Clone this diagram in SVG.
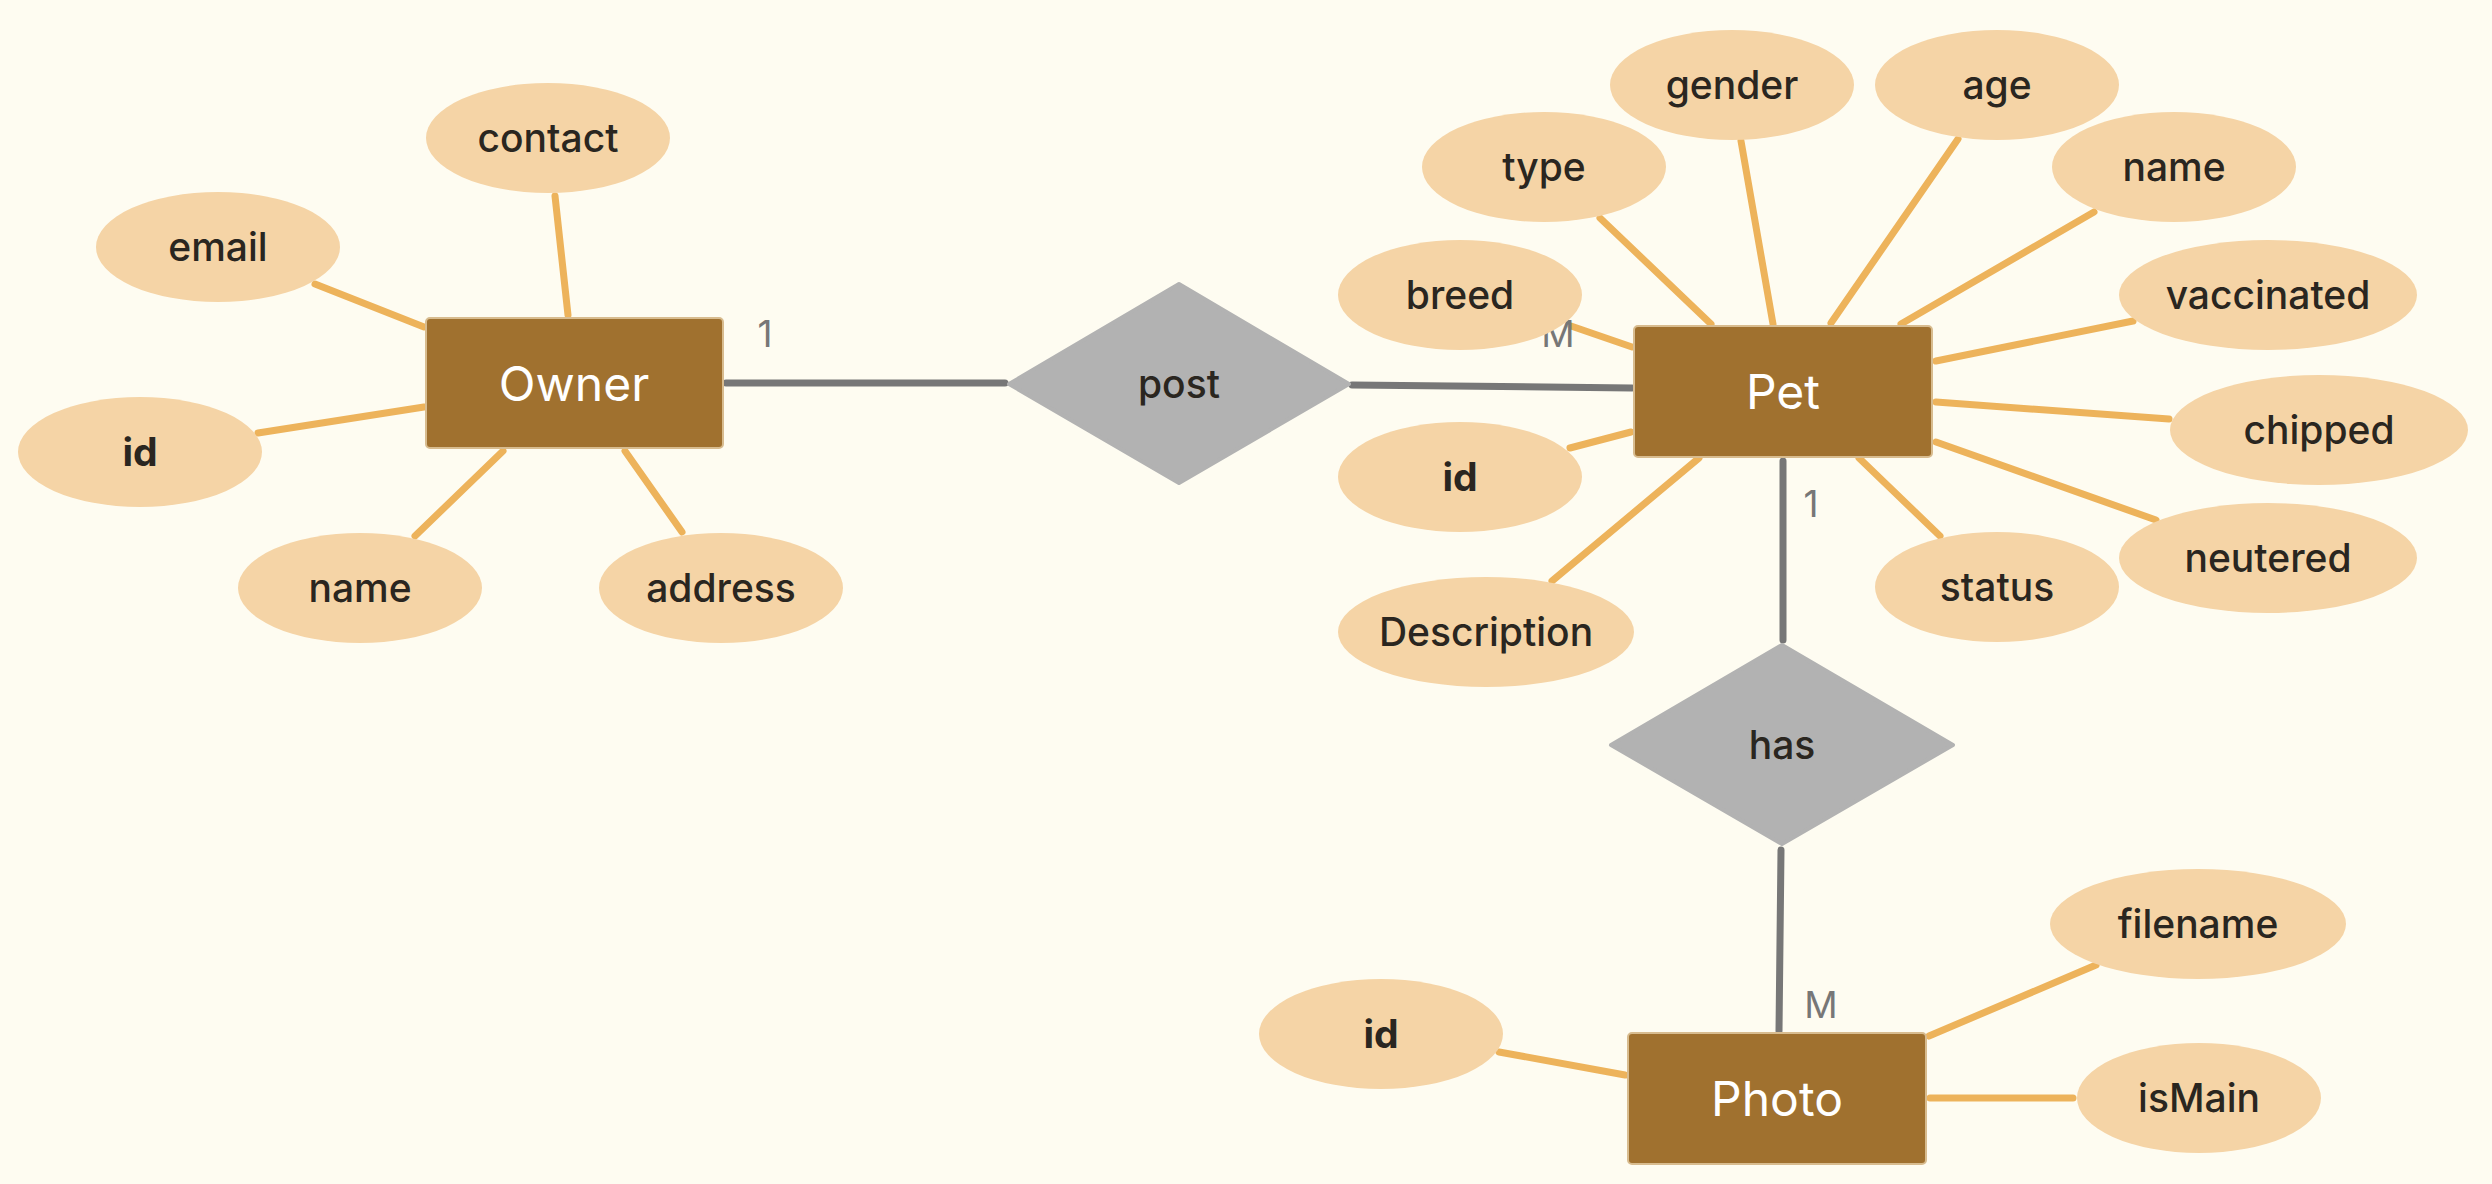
<svg xmlns="http://www.w3.org/2000/svg" width="2492" height="1184" viewBox="0 0 2492 1184">
<style>
.bg{fill:#FEFCF1}
.ent rect{fill:#A0712F;stroke:#D8BC8F;stroke-width:2}
.ent text{fill:#FFFFFF;font-family:Inter,"Liberation Sans",sans-serif;font-size:48px;text-anchor:middle}
.att ellipse{fill:#F5D4A6}
.att text{fill:#2A2620;font-family:Inter,"Liberation Sans",sans-serif;font-size:39px;font-weight:500;text-anchor:middle}
.att text.pk{font-weight:bold}
.rel polygon{fill:#B2B2B2;stroke:#B2B2B2;stroke-width:4;stroke-linejoin:round}
.rel text{fill:#2A2620;font-family:Inter,"Liberation Sans",sans-serif;font-size:39px;font-weight:500;text-anchor:middle}
.a{stroke:#EDB35B;stroke-width:7;stroke-linecap:round;fill:none}
.r{stroke:#777777;stroke-width:7;stroke-linecap:round;fill:none}
.card{fill:#777777;font-family:Inter,"Liberation Sans",sans-serif;font-size:37px;text-anchor:middle}
</style>
<rect class="bg" x="0" y="0" width="2492" height="1184"/>
<g id="connectors">
<line class="a" x1="555" y1="196" x2="568" y2="315"/>
<line class="a" x1="315" y1="284" x2="424" y2="327"/>
<line class="a" x1="258" y1="433" x2="424" y2="407"/>
<line class="a" x1="415" y1="536" x2="503" y2="451"/>
<line class="a" x1="682" y1="532" x2="625" y2="451"/>
<line class="a" x1="1741" y1="141" x2="1773" y2="324"/>
<line class="a" x1="1958" y1="139" x2="1831" y2="323"/>
<line class="a" x1="1600" y1="218" x2="1711" y2="324"/>
<line class="a" x1="2094" y1="212" x2="1901" y2="324"/>
<line class="a" x1="1571" y1="326" x2="1632" y2="347"/>
<line class="a" x1="2133" y1="321" x2="1936" y2="361"/>
<line class="a" x1="2169" y1="419" x2="1936" y2="402"/>
<line class="a" x1="2156" y1="520" x2="1936" y2="442"/>
<line class="a" x1="1940" y1="536" x2="1859" y2="458"/>
<line class="a" x1="1552" y1="581" x2="1699" y2="458"/>
<line class="a" x1="1570" y1="448" x2="1631" y2="432"/>
<line class="a" x1="1499" y1="1052" x2="1625" y2="1075"/>
<line class="a" x1="2096" y1="965" x2="1929" y2="1036"/>
<line class="a" x1="1930" y1="1098" x2="2073" y2="1098"/>
<line class="r" x1="726" y1="383" x2="1005" y2="383"/>
<line class="r" x1="1352" y1="385" x2="1632" y2="388"/>
<line class="r" x1="1783" y1="461" x2="1783" y2="640"/>
<line class="r" x1="1781" y1="850" x2="1779" y2="1031"/>
<text class="card" x="765" y="347">1</text>
<text class="card" x="1558" y="347">M</text>
<text class="card" x="1811" y="517">1</text>
<text class="card" x="1821" y="1018">M</text>
</g>
<g id="owner" class="ent"><rect x="426" y="318" width="297" height="130" rx="4"/><text x="574" y="401">Owner</text></g>
<g id="pet" class="ent"><rect x="1634" y="326" width="298" height="131" rx="4"/><text x="1783" y="409">Pet</text></g>
<g id="photo" class="ent"><rect x="1628" y="1033" width="298" height="131" rx="4"/><text x="1777" y="1116">Photo</text></g>
<g id="post" class="rel"><polygon points="1179,284 1349,384 1179,483 1009,384"/><text x="1179" y="398">post</text></g>
<g id="has" class="rel"><polygon points="1782,645 1953,745 1782,844 1611,745"/><text x="1782" y="759">has</text></g>
<g id="owner-contact" class="att"><ellipse cx="548" cy="138" rx="122" ry="55"/><text x="548" y="152">contact</text></g>
<g id="owner-email" class="att"><ellipse cx="218" cy="247" rx="122" ry="55"/><text x="218" y="261">email</text></g>
<g id="owner-id" class="att"><ellipse cx="140" cy="452" rx="122" ry="55"/><text class="pk" x="140" y="466">id</text></g>
<g id="owner-name" class="att"><ellipse cx="360" cy="588" rx="122" ry="55"/><text x="360" y="602">name</text></g>
<g id="owner-address" class="att"><ellipse cx="721" cy="588" rx="122" ry="55"/><text x="721" y="602">address</text></g>
<g id="pet-gender" class="att"><ellipse cx="1732" cy="85" rx="122" ry="55"/><text x="1732" y="99">gender</text></g>
<g id="pet-age" class="att"><ellipse cx="1997" cy="85" rx="122" ry="55"/><text x="1997" y="99">age</text></g>
<g id="pet-type" class="att"><ellipse cx="1544" cy="167" rx="122" ry="55"/><text x="1544" y="181">type</text></g>
<g id="pet-name" class="att"><ellipse cx="2174" cy="167" rx="122" ry="55"/><text x="2174" y="181">name</text></g>
<g id="pet-breed" class="att"><ellipse cx="1460" cy="295" rx="122" ry="55"/><text x="1460" y="309">breed</text></g>
<g id="pet-vaccinated" class="att"><ellipse cx="2268" cy="295" rx="149" ry="55"/><text x="2268" y="309">vaccinated</text></g>
<g id="pet-id" class="att"><ellipse cx="1460" cy="477" rx="122" ry="55"/><text class="pk" x="1460" y="491">id</text></g>
<g id="pet-chipped" class="att"><ellipse cx="2319" cy="430" rx="149" ry="55"/><text x="2319" y="444">chipped</text></g>
<g id="pet-description" class="att"><ellipse cx="1486" cy="632" rx="148" ry="55"/><text x="1486" y="646">Description</text></g>
<g id="pet-status" class="att"><ellipse cx="1997" cy="587" rx="122" ry="55"/><text x="1997" y="601">status</text></g>
<g id="pet-neutered" class="att"><ellipse cx="2268" cy="558" rx="149" ry="55"/><text x="2268" y="572">neutered</text></g>
<g id="photo-id" class="att"><ellipse cx="1381" cy="1034" rx="122" ry="55"/><text class="pk" x="1381" y="1048">id</text></g>
<g id="photo-filename" class="att"><ellipse cx="2198" cy="924" rx="148" ry="55"/><text x="2198" y="938">filename</text></g>
<g id="photo-ismain" class="att"><ellipse cx="2199" cy="1098" rx="122" ry="55"/><text x="2199" y="1112">isMain</text></g>
</svg>
